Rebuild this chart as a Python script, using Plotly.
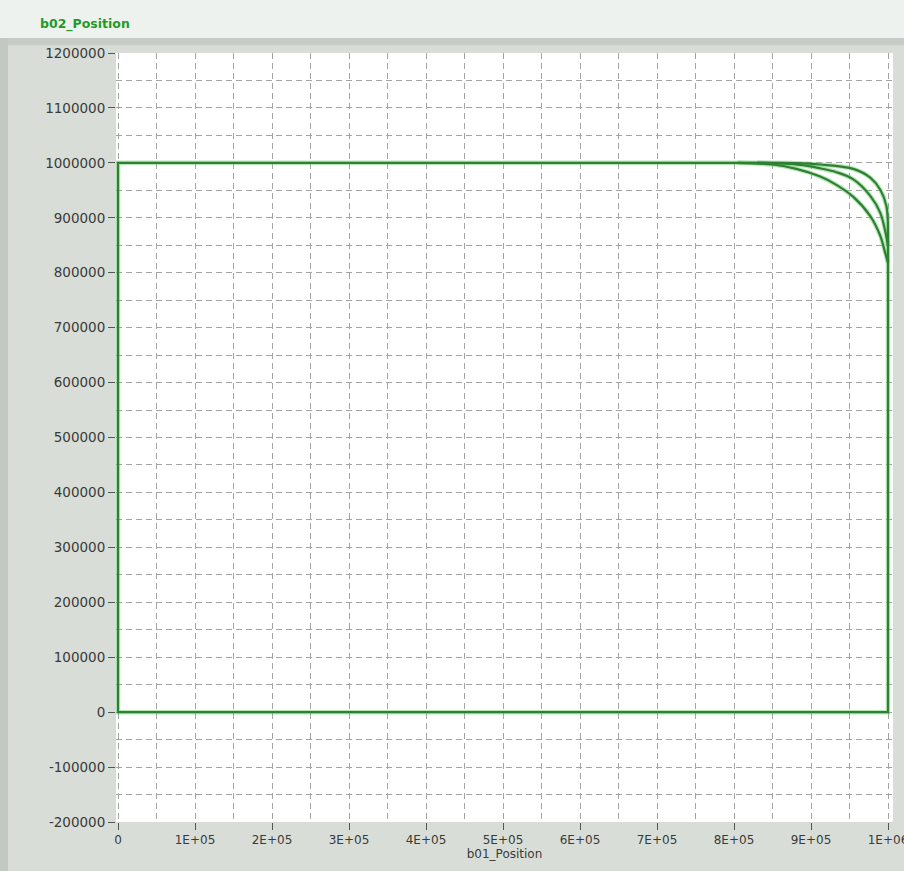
import plotly.graph_objects as go

# Travel envelope: b01_Position (x) vs b02_Position (y)
frame_x = [1000000, 1000000, 0, 0, 840000]
frame_y = [876000, 0, 0, 1000000, 1000000]

# Three rounded corner profiles near the upper-right corner
outer_x = [840000, 880000, 912000, 955000, 977000, 990000, 998000, 1000000]
outer_y = [1000000, 999500, 997000, 989000, 973000, 951000, 921000, 876000]

middle_x = [830000, 875000, 912000, 933000, 955000, 977000, 990000, 996000, 1000000]
middle_y = [1000000, 998000, 990000, 983000, 970000, 940000, 909000, 878000, 849000]

inner_x = [805000, 850000, 881000, 912000, 933000, 955000, 977000, 990000, 996000, 1000000]
inner_y = [1000000, 997000, 989000, 975000, 960000, 938000, 903000, 867000, 838000, 818000]

x_ticks = [0, 100000, 200000, 300000, 400000, 500000, 600000, 700000, 800000, 900000, 1000000]
x_tick_labels = ["0", "1E+05", "2E+05", "3E+05", "4E+05", "5E+05",
                 "6E+05", "7E+05", "8E+05", "9E+05", "1E+06"]
y_ticks = [-200000, -100000, 0, 100000, 200000, 300000, 400000, 500000,
           600000, 700000, 800000, 900000, 1000000, 1100000, 1200000]
y_tick_labels = ["-200000", "-100000", "0", "100000", "200000", "300000", "400000",
                 "500000", "600000", "700000", "800000", "900000", "1000000",
                 "1100000", "1200000"]

LINE = "#2f7f34"
GLOW = "rgba(90,200,90,0.45)"

paths = [
    (frame_x, frame_y, "linear"),
    (outer_x, outer_y, "spline"),
    (middle_x, middle_y, "spline"),
    (inner_x, inner_y, "spline"),
]

fig = go.Figure()
for color, width in [(GLOW, 4.5), (LINE, 2.2)]:
    for xs, ys, shape in paths:
        fig.add_trace(go.Scatter(
            x=xs, y=ys, mode="lines",
            line=dict(color=color, width=width, shape=shape, smoothing=1.0) if shape == "spline"
            else dict(color=color, width=width, shape=shape),
            hoverinfo="skip", showlegend=False))

grid_common = dict(
    showgrid=True, gridcolor="#a4a4a4", gridwidth=1, griddash="6px,4px",
    zeroline=False, showline=False, automargin=False,
    ticks="outside", ticklen=7, tickcolor="#555555", tickwidth=1,
    ticklabeloverflow="allow",
    minor=dict(dtick=50000, showgrid=True, gridcolor="#a4a4a4", gridwidth=1, griddash="6px,4px", ticks=""),
    fixedrange=True,
)

fig.update_xaxes(
    range=[-2600, 1006500], tickmode="array", tickvals=x_ticks, ticktext=x_tick_labels,
    tickfont=dict(family="DejaVu Sans", size=12, color="#3a3a3a"),
    title=dict(text="b01_Position", font=dict(family="DejaVu Sans", size=12, color="#3a3a3a"), standoff=2),
    **grid_common,
)
fig.update_yaxes(
    range=[-200000, 1200000], tickmode="array", tickvals=y_ticks, ticktext=y_tick_labels,
    tickfont=dict(family="DejaVu Sans", size=13.5, color="#3a3a3a"),
    **grid_common,
)

# Panel decoration: header strip with the channel name
fig.add_shape(type="rect", xref="paper", yref="paper", x0=-0.16, x1=1.02, y0=1.0195, y1=1.075,
              fillcolor="#eef2ee", line=dict(width=0), layer="below")
fig.add_shape(type="rect", xref="paper", yref="paper", x0=-0.16, x1=1.02, y0=1.010, y1=1.0195,
              fillcolor="#c5cbc5", line=dict(width=0), layer="below")
fig.add_shape(type="rect", xref="paper", yref="paper", x0=-0.16, x1=-0.139, y0=-0.1, y1=1.0195,
              fillcolor="#c2c8c2", line=dict(width=0), layer="below")
fig.add_annotation(text="<b>b02_Position</b>", xref="paper", yref="paper", x=-0.1, y=1.0375,
                   xanchor="left", yanchor="middle", showarrow=False,
                   font=dict(family="DejaVu Sans", size=12.5, color="#1f9a2a"))

fig.update_layout(
    width=904, height=871,
    margin=dict(l=116, r=11, t=53, b=49),
    paper_bgcolor="#d8ded7",
    plot_bgcolor="#ffffff",
    showlegend=False,
)

fig.write_html("out.html")
